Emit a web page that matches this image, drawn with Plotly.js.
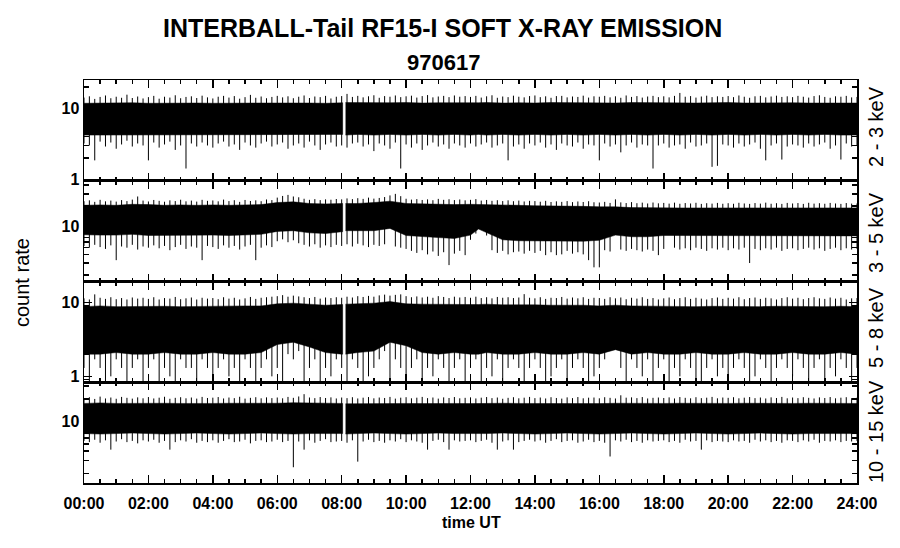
<!DOCTYPE html>
<html><head><meta charset="utf-8">
<script src="https://cdn.plot.ly/plotly-3.0.1.min.js"></script>
<style>body{margin:0;background:#fff}#chart{width:900px;height:548px}</style>
</head><body><div id="chart"></div>
<script>
// ---------- data ----------
const TITLE_1 = 'INTERBALL-Tail RF15-I SOFT X-RAY EMISSION';
const TITLE_2 = '970617';
const Y_TITLE = 'count rate';
const X_TITLE = 'time UT';
const BAND_NAMES = ['2 - 3 keV', '3 - 5 keV', '5 - 8 keV', '10 - 15 keV'];
const TIME_TICKS = [0, 2, 4, 6, 8, 10, 12, 14, 16, 18, 20, 22, 24];
const TIME_LABELS = ['00:00','02:00','04:00','06:00','08:00','10:00','12:00','14:00','16:00','18:00','20:00','22:00','24:00'];
const Y_TICKS = [1, 10];
const Y_LABELS = ['1', '10'];
const Y_MINOR = [0.8, 0.9, 2, 3, 4, 5, 6, 7, 8, 9, 20, 30, 40];

// times (hours UT) of the dense core envelope; data gap between 8.03 and 8.12
const coreT = [0,0.5,1,1.5,2,2.5,3,3.5,4,4.5,5,5.5,
  6,6.5,7,7.5,8,
  8.03,8.12,
  8.5,9,9.5,10,10.5,11,11.5,12,
  12.25,
  12.5,13,13.5,14,14.5,15,15.5,16,16.5,17,17.5,18,18.5,19,19.5,20,20.5,21,21.5,22,22.5,23,23.5,24];
const GAP_AFTER = 8.03;

// times (minutes UT) of the spike extremes
const spikeMin = [
  0,10,20,30,40,50,60,70,80,90,100,110,
  120,130,140,150,160,170,180,190,200,210,220,230,
  240,250,260,270,280,290,300,310,320,330,340,350,
  360,370,380,390,400,410,420,430,440,450,460,470,
  480,490,500,510,520,530,540,550,560,570,580,590,
  600,610,620,630,640,650,660,670,680,690,700,710,
  720,730,740,750,760,770,780,790,800,810,820,830,
  840,850,860,870,880,890,900,910,920,930,940,950,
  960,970,980,990,1000,1010,1020,1030,1040,1050,1060,1070,
  1080,1090,1100,1110,1120,1130,1140,1150,1160,1170,1180,1190,
  1200,1210,1220,1230,1240,1250,1260,1270,1280,1290,1300,1310,
  1320,1330,1340,1350,1360,1370,1380,1390,1400,1410,1420,1430,
  1440];

// ---- 2 - 3 keV ----
const p1CoreHi = [11.8,11.9,11.8,12.0,11.8,11.9,11.8,11.9,11.8,11.9,11.8,11.9,
  11.9,12.0,11.9,11.8,12.0,
  12.0,12.1,
  12.0,12.1,12.0,12.1,11.9,12.0,11.9,12.0,
  12.0,
  12.1,11.9,12.0,11.9,12.1,12.0,11.9,12.0,11.9,12.1,12.0,11.9,12.0,11.9,12.0,12.1,11.9,12.0,11.9,12.0,11.9,12.0,11.9,11.9];
const p1CoreLo = [4.2,4.3,4.2,4.3,4.2,4.3,4.2,4.2,4.3,4.2,4.3,4.2,
  4.3,4.2,4.3,4.2,4.3,
  4.3,4.2,
  4.3,4.2,4.3,4.2,4.3,4.2,4.3,4.2,
  4.3,
  4.2,4.3,4.2,4.3,4.2,4.3,4.2,4.3,4.2,4.3,4.2,4.3,4.2,4.3,4.2,4.3,4.2,4.3,4.2,4.3,4.2,4.3,4.2,4.2];
const p1Hi = [
  14.2,14.8,13.6,14.5,15.2,13.9,14.6,14.1,15.6,14.0,14.7,13.8,
  14.4,15.0,13.7,14.6,14.2,15.3,13.9,14.5,14.8,14.0,15.1,14.3,
  13.8,14.6,15.0,14.2,14.9,13.7,14.4,15.5,14.1,14.7,13.9,14.5,
  15.0,14.3,14.8,13.9,14.6,15.2,14.0,14.7,14.4,15.0,13.8,14.6,
  14.9,16.0,14.5,15.0,14.3,14.8,15.3,14.1,14.9,14.6,15.2,14.4,
  14.8,15.1,14.2,14.9,15.4,14.3,14.7,15.0,14.4,15.2,14.6,14.9,
  14.5,15.0,14.2,14.8,15.3,14.1,14.7,14.4,15.1,14.6,14.3,14.9,
  15.2,14.4,14.8,14.1,14.9,15.0,14.3,14.7,14.5,15.1,14.2,14.8,
  14.6,15.0,14.3,14.8,14.1,15.2,14.5,14.9,14.2,14.7,15.0,14.4,
  14.8,14.3,15.0,16.5,14.6,14.9,14.2,14.7,15.1,14.4,14.8,14.5,
  14.9,14.4,15.2,14.6,14.1,14.8,15.0,14.3,14.7,15.1,14.5,14.8,
  14.4,15.0,14.6,14.2,14.9,15.3,14.5,14.1,14.8,14.6,15.0,14.3,
  14.5];
const p1Lo = [
  3.2,3.0,1.85,3.4,2.9,3.3,2.7,3.1,3.5,2.9,3.2,3.0,
  1.85,3.3,2.8,3.1,3.4,2.6,3.0,1.42,3.2,2.9,3.3,3.0,
  2.8,3.2,3.4,2.9,3.1,2.6,3.3,3.0,2.8,3.2,3.4,2.9,
  3.1,3.3,2.7,3.0,3.2,2.8,3.4,3.0,2.6,3.1,3.3,2.9,
  3.0,2.8,3.2,3.3,2.9,3.1,2.5,3.2,3.0,2.7,3.3,1.42,
  3.1,2.8,3.2,2.6,3.0,3.3,2.9,3.1,2.7,3.2,3.0,2.8,
  3.2,2.9,3.1,3.3,2.8,3.0,3.2,1.85,2.9,3.1,2.7,3.2,
  3.0,3.3,2.8,3.1,2.6,3.2,3.0,2.9,3.3,2.7,3.1,3.0,
  1.85,3.2,2.9,3.1,2.4,3.0,3.3,2.8,3.1,3.0,1.42,3.0,
  3.2,2.8,3.0,3.1,2.7,3.3,2.9,3.0,3.2,1.5,1.55,3.1,
  3.0,2.8,3.2,2.9,3.1,3.3,2.7,1.85,3.0,3.2,1.9,2.9,
  3.1,3.0,2.8,3.2,2.9,3.1,3.3,2.7,3.0,1.9,3.2,2.9,
  3.0];

// ---- 3 - 5 keV ----
const p2CoreHi = [20.5,20.8,20.5,21.2,21.0,20.5,20.8,20.5,20.8,20.5,20.8,21.0,
  22.5,23.0,21.8,21.5,21.8,
  21.8,21.8,
  21.8,22.5,23.5,21.8,21.5,21.2,21.0,21.2,
  21.0,
  21.0,20.5,20.5,20.2,20.2,19.8,19.8,19.5,19.5,19.0,18.8,18.8,18.8,18.8,18.8,18.8,18.8,18.8,18.8,18.8,18.8,18.8,18.8,18.8];
const p2CoreLo = [7.7,7.6,7.6,7.8,7.5,7.6,7.5,7.6,7.6,7.5,7.6,7.8,
  8.6,8.8,8.2,8.0,8.5,
  8.5,8.8,
  8.8,8.8,9.5,7.5,7.2,7.0,6.8,7.6,
  9.3,
  8.2,6.5,6.3,6.3,6.2,6.2,6.2,6.4,7.6,7.2,7.2,7.5,7.4,7.4,7.4,7.4,7.4,7.4,7.4,7.4,7.4,7.4,7.4,7.4];
const p2Hi = [
  23.5,24.2,23.0,24.6,23.4,24.0,23.2,24.4,23.6,24.8,27.5,24.0,
  23.3,24.5,23.8,23.1,24.2,23.6,24.7,23.4,24.0,23.2,24.6,23.8,
  24.1,23.4,24.8,23.6,24.3,23.0,24.5,23.7,24.2,23.5,24.9,24.4,
  26.5,28.0,29.0,27.5,26.8,25.5,24.6,25.2,24.4,25.0,24.7,25.3,
  25.0,25.8,25.2,26.0,25.4,26.5,25.6,26.2,27.0,28.5,30.0,27.8,
  25.5,24.8,25.2,24.5,25.0,24.3,25.4,24.6,25.1,24.4,24.9,24.2,
  24.6,25.2,24.0,24.5,23.8,24.3,23.6,24.2,23.5,24.0,23.3,23.8,
  23.6,23.1,23.8,22.9,23.4,23.0,23.6,22.8,23.3,22.9,23.5,22.7,
  22.5,23.0,22.2,25.0,22.6,22.1,22.8,22.0,22.4,21.8,22.5,21.9,
  22.2,21.7,22.4,21.6,22.1,21.8,22.3,21.5,22.0,21.7,22.2,21.6,
  22.0,21.6,22.3,21.8,21.5,22.1,21.7,22.4,21.6,22.0,21.5,22.2,
  21.8,22.1,21.5,22.3,21.7,22.0,21.6,22.2,21.8,21.5,22.1,21.7,
  21.8];
const p2Lo = [
  5.3,5.0,5.5,5.1,4.8,5.4,3.3,5.2,5.0,5.5,4.7,5.2,
  5.0,5.4,4.9,5.3,4.6,5.1,5.5,4.8,5.2,5.0,3.3,5.3,
  5.1,4.8,5.4,5.0,5.3,4.7,5.2,5.5,3.3,5.0,5.4,5.1,
  6.2,6.6,6.0,6.4,5.8,5.5,5.2,5.6,5.0,5.4,5.1,5.5,
  5.3,5.6,5.2,5.7,5.4,5.1,5.5,5.3,5.6,11.8,5.2,5.0,
  4.8,4.5,4.2,4.6,4.0,4.4,3.8,4.3,2.8,4.1,4.5,3.9,
  6.5,8.0,9.5,7.5,4.6,4.2,4.5,4.0,4.3,4.4,4.1,4.5,
  4.2,4.5,3.9,4.3,3.9,4.0,4.5,4.1,4.3,4.0,3.3,2.6,
  2.6,4.6,4.4,9.0,4.7,4.5,4.8,4.6,4.4,4.7,4.5,3.9,
  4.8,8.0,5.0,4.7,4.9,4.6,5.0,4.8,4.5,4.9,4.7,5.0,
  4.6,4.9,4.7,5.0,3.0,4.8,4.6,4.9,4.7,5.0,4.5,4.8,
  4.9,4.6,4.8,5.0,4.7,4.9,4.5,4.8,5.0,4.6,4.9,4.7,
  4.8];

// ---- 5 - 8 keV ----
const p3CoreHi = [8.8,9.0,8.8,8.9,8.8,8.9,8.8,8.9,8.8,8.9,9.0,9.0,
  9.6,9.8,9.5,9.2,9.4,
  9.4,9.5,
  9.6,9.8,10.3,9.6,9.5,9.4,9.5,9.4,
  9.4,
  9.5,9.3,9.4,9.3,9.2,9.3,9.2,9.0,9.2,9.0,8.9,9.0,8.9,8.8,8.9,8.8,8.9,8.8,8.9,8.8,8.9,8.8,8.9,8.8];
const p3CoreLo = [2.0,2.0,2.1,2.0,2.0,2.1,2.0,2.0,2.1,2.0,2.0,2.1,
  2.7,2.9,2.5,2.1,2.0,
  2.0,2.0,
  2.1,2.2,2.9,2.6,2.1,2.0,2.1,2.0,
  2.0,
  2.1,2.0,2.0,2.1,2.0,2.0,2.1,2.0,2.3,2.0,2.1,2.0,2.0,2.1,2.0,2.0,2.1,2.0,2.0,2.1,2.0,2.0,2.1,2.0];
const p3Hi = [
  11.4,11.0,12.9,11.6,11.2,11.8,11.1,11.5,11.0,11.7,11.3,11.6,
  11.2,11.8,11.0,11.5,11.3,11.9,11.1,11.4,11.7,11.0,11.6,11.3,
  11.5,11.1,11.8,11.3,11.6,11.0,11.4,11.9,11.2,11.6,11.8,12.0,
  12.2,12.6,12.0,12.4,12.1,11.8,11.5,11.9,11.3,11.7,11.5,11.8,
  11.6,12.0,11.7,12.2,11.9,12.3,12.0,12.5,12.8,12.4,12.7,12.9,
  12.2,11.8,12.1,11.7,12.0,11.6,12.2,11.9,11.5,12.0,11.7,11.9,
  11.6,12.0,11.5,11.8,11.4,11.9,11.6,11.8,11.5,11.7,13.0,11.6,
  11.4,11.8,11.2,11.6,11.5,11.9,11.3,11.7,11.4,11.8,11.2,11.6,
  11.5,11.2,11.8,11.4,11.7,11.1,11.6,11.3,11.8,11.2,11.5,11.0,
  11.4,11.7,11.1,11.5,11.8,11.2,11.6,11.3,11.0,11.5,11.7,11.2,
  11.6,11.3,11.8,11.1,11.5,11.7,11.2,11.6,11.4,11.0,11.5,11.8,
  11.3,11.6,11.1,11.5,11.8,11.4,11.2,11.7,11.3,11.6,11.0,11.4,
  11.5];
const p3Lo = [
  1.3,0.85,1.7,1.3,0.85,1.0,1.7,1.3,0.85,1.3,1.7,0.85,
  1.3,1.7,0.85,1.3,1.0,0.85,1.7,1.3,1.3,0.85,1.7,1.3,
  0.85,1.3,1.7,1.0,1.3,0.85,1.7,1.3,0.85,1.3,1.7,1.0,
  1.3,0.85,2.0,1.7,2.2,0.85,1.3,1.7,0.85,1.3,1.0,1.7,
  1.3,0.85,1.7,1.3,0.85,1.0,1.3,1.7,2.2,0.85,1.7,1.3,
  0.85,1.3,1.7,0.85,1.3,1.0,1.7,1.3,0.85,1.3,1.7,0.85,
  1.3,1.7,0.85,1.3,1.0,1.7,0.85,1.3,1.7,1.3,0.85,1.3,
  1.7,1.3,0.85,1.0,1.3,1.7,0.85,1.3,1.7,1.3,0.85,1.0,
  1.3,1.7,3.0,4.2,1.3,0.85,1.7,1.3,1.0,1.7,0.85,1.3,
  1.7,0.85,1.3,1.0,1.7,1.3,0.85,0.85,1.3,1.7,1.0,1.3,
  0.85,1.3,1.7,1.3,0.85,1.0,1.7,1.3,0.85,1.3,1.7,1.3,
  1.0,1.7,1.3,0.85,1.3,1.7,0.85,1.3,1.0,1.7,1.3,0.85,
  1.3];

// ---- 10 - 15 keV ----
const p4CoreHi = [17.5,17.8,17.5,17.6,17.4,17.6,17.5,17.7,17.5,17.6,17.5,17.7,
  17.6,17.9,17.8,17.6,17.5,
  17.5,17.3,
  17.4,17.5,17.4,17.5,17.4,17.6,17.5,17.4,
  17.5,
  17.5,17.6,17.5,17.4,17.5,17.6,17.5,17.4,17.6,17.5,17.4,17.5,17.6,17.5,17.4,17.5,17.6,17.5,17.4,17.5,17.6,17.5,17.4,17.5];
const p4CoreLo = [6.9,6.8,6.9,7.0,6.9,6.8,6.9,7.0,6.9,6.8,6.9,7.0,
  6.9,6.8,6.9,7.0,6.9,
  6.9,6.8,
  6.9,7.0,6.9,6.8,6.9,7.0,6.9,6.8,
  6.9,
  6.9,7.0,6.9,6.8,6.9,7.0,6.9,6.8,6.9,7.0,6.9,6.8,6.9,7.0,6.9,6.8,6.9,7.0,6.9,6.8,6.9,7.0,6.9,6.9];
const p4Hi = [
  20.6,21.2,20.1,21.6,20.4,21.0,20.2,21.4,20.8,20.3,21.1,20.5,
  21.3,20.4,20.9,21.5,20.2,20.8,21.2,20.5,21.0,20.3,21.4,20.7,
  20.9,21.3,20.4,21.0,20.6,21.5,20.3,20.8,21.2,20.5,21.1,20.6,
  21.0,20.5,21.4,20.8,21.7,23.3,21.0,20.6,21.3,20.7,21.1,20.4,
  21.0,20.6,21.2,20.4,20.9,21.3,20.5,21.0,20.7,21.4,20.3,20.9,
  21.2,20.5,20.9,21.4,20.6,21.0,20.3,21.1,20.7,21.3,20.5,20.8,
  21.1,20.4,20.9,21.3,20.6,21.0,20.2,20.8,21.2,20.5,20.9,21.4,
  20.6,21.0,20.4,21.2,20.7,20.3,21.1,20.6,21.3,20.5,20.9,21.0,
  20.5,21.2,20.8,20.4,22.5,20.9,21.1,20.6,21.3,20.4,20.8,21.0,
  20.7,21.1,20.4,21.3,20.8,20.5,21.2,20.6,20.9,21.4,20.5,21.0,
  20.8,21.2,20.5,20.9,21.3,20.6,21.0,20.4,21.1,20.7,21.4,20.5,
  21.0,20.6,21.2,20.8,20.4,21.1,20.7,21.3,20.5,20.9,21.2,20.6,
  20.9];
const p4Lo = [
  5.5,5.3,5.7,5.2,5.6,4.2,5.4,5.8,5.3,5.5,5.1,5.6,
  5.4,5.7,5.2,5.5,4.2,5.3,5.6,5.4,5.8,5.2,5.5,5.3,
  5.6,5.2,5.5,5.8,5.3,5.4,5.7,5.1,5.5,5.6,5.3,5.4,
  5.7,5.3,5.5,2.44,5.4,4.2,5.6,5.2,5.5,5.8,5.3,5.4,
  5.5,5.2,5.6,2.9,5.4,5.7,5.3,5.5,5.2,5.6,5.4,5.8,
  5.3,5.6,5.4,5.2,4.2,5.5,5.7,5.3,4.2,5.6,5.4,5.5,
  5.6,5.3,5.5,5.7,5.2,4.2,5.4,5.6,4.2,5.3,5.5,5.7,
  5.4,5.6,5.2,5.5,5.8,5.3,5.5,5.6,5.2,5.4,5.7,5.3,
  5.5,5.2,3.4,5.6,5.4,5.7,5.3,5.5,5.2,5.6,5.4,5.5,
  5.6,5.3,5.5,5.2,5.7,5.4,5.5,4.2,5.6,5.3,5.5,5.4,
  5.3,5.6,5.4,5.5,5.2,5.7,5.4,5.6,5.3,5.5,5.2,5.6,
  5.5,5.3,5.6,5.4,5.7,5.2,5.5,5.4,5.6,5.3,5.5,5.4,
  5.5];

// ---------- layout constants ----------
const W = 900, H = 548, ML = 84, MR = 43, MT = 80, MB = 65;
const PW = W - ML - MR, PH = H - MT - MB;
const px = x => (x - ML) / PW;
const py = y => (H - MB - y) / PH;
const FAM = 'Liberation Sans, Arial, sans-serif';
const LABEL_Y = [127, 233, 328, 432];   // pixel centres of the right-hand band labels

const panels = [
  {name: BAND_NAMES[0], range: [-0.02, 1.40], cHi: p1CoreHi, cLo: p1CoreLo, hi: p1Hi, lo: p1Lo},
  {name: BAND_NAMES[1], range: [0.21, 1.667], cHi: p2CoreHi, cLo: p2CoreLo, hi: p2Hi, lo: p2Lo},
  {name: BAND_NAMES[2], range: [-0.08, 1.285], cHi: p3CoreHi, cLo: p3CoreLo, hi: p3Hi, lo: p3Lo},
  {name: BAND_NAMES[3], range: [0.176, 1.527], cHi: p4CoreHi, cLo: p4CoreLo, hi: p4Hi, lo: p4Lo}
];

const traces = [];
const layout = {
  width: W, height: H,
  margin: {l: ML, r: MR, t: MT, b: MB, pad: 0},
  paper_bgcolor: '#fff', plot_bgcolor: '#fff',
  showlegend: false,
  font: {family: FAM, color: '#000'},
  annotations: []
};
const tickFont = {family: FAM, size: 16, color: '#000', weight: 'bold'};

panels.forEach((p, i) => {
  const n = i + 1;
  const xa = 'x' + (n === 1 ? '' : n), ya = 'y' + (n === 1 ? '' : n);
  // core band, split at the data gap
  const segs = [[], []];
  coreT.forEach((t, k) => segs[t <= GAP_AFTER ? 0 : 1].push(k));
  segs.forEach(seg => {
    const xs = seg.map(k => coreT[k]).concat(seg.slice().reverse().map(k => coreT[k]));
    const ys = seg.map(k => p.cHi[k]).concat(seg.slice().reverse().map(k => p.cLo[k]));
    traces.push({x: xs, y: ys, xaxis: xa, yaxis: ya, type: 'scatter', mode: 'lines',
      fill: 'toself', fillcolor: '#000', line: {color: '#000', width: 0.5}, hoverinfo: 'skip'});
  });
  // spikes (vertical segments from minimum to maximum)
  const sx = [], sy = [];
  spikeMin.forEach((m, k) => { const t = m / 60; sx.push(t, t, null); sy.push(p.lo[k], p.hi[k], null); });
  traces.push({x: sx, y: sy, xaxis: xa, yaxis: ya, type: 'scatter', mode: 'lines',
    line: {color: '#000', width: 1}, connectgaps: false, hoverinfo: 'skip'});

  const top = 1 - i * 0.25, bot = 1 - (i + 1) * 0.25;
  layout['xaxis' + (n === 1 ? '' : n)] = {
    domain: [0, 1], anchor: ya, range: [0, 24],
    tickmode: 'array', tickvals: TIME_TICKS, ticktext: TIME_LABELS,
    showticklabels: n === 4, tickfont: tickFont, ticklabelstandoff: 5,
    ticks: 'inside', ticklen: 8, tickwidth: 1.5, tickcolor: '#000',
    minor: {dtick: 0.5, tick0: 0, ticks: 'inside', ticklen: 4, tickwidth: 1.5, tickcolor: '#000', showgrid: false},
    showline: true, linecolor: '#000', linewidth: 1.5, mirror: 'allticks',
    showgrid: false, zeroline: false, fixedrange: true
  };
  layout['yaxis' + (n === 1 ? '' : n)] = {
    domain: [bot, top], anchor: xa, type: 'log', range: p.range,
    tickmode: 'array', tickvals: Y_TICKS, ticktext: Y_LABELS,
    tickfont: tickFont, ticklabelstandoff: 0,
    ticks: 'inside', ticklen: 8, tickwidth: 1.5, tickcolor: '#000',
    minor: {tickmode: 'array', tickvals: Y_MINOR, ticks: 'inside', ticklen: 5, tickwidth: 1.5, tickcolor: '#000', showgrid: false},
    showline: true, linecolor: '#000', linewidth: 1.5, mirror: 'allticks',
    showgrid: false, zeroline: false, fixedrange: true
  };
  layout.annotations.push({
    text: p.name, xref: 'paper', yref: 'paper', x: px(876), y: py(LABEL_Y[i]),
    textangle: -90, showarrow: false, xanchor: 'center', yanchor: 'middle',
    font: {family: FAM, size: 20, color: '#000'}
  });
});

layout.annotations.push(
  {text: TITLE_1, xref: 'paper', yref: 'paper', x: px(442), y: py(28), showarrow: false,
   xanchor: 'center', yanchor: 'middle', font: {size: 25, weight: 'bold', color: '#000', family: FAM}},
  {text: TITLE_2, xref: 'paper', yref: 'paper', x: px(443), y: py(62), showarrow: false,
   xanchor: 'center', yanchor: 'middle', font: {size: 22, weight: 'bold', color: '#000', family: FAM}},
  {text: Y_TITLE, xref: 'paper', yref: 'paper', x: px(22), y: py(283), showarrow: false, textangle: -90,
   xanchor: 'center', yanchor: 'middle', font: {size: 20, color: '#000', family: FAM}},
  {text: X_TITLE, xref: 'paper', yref: 'paper', x: px(471), y: py(522), showarrow: false,
   xanchor: 'center', yanchor: 'middle', font: {size: 16, weight: 'bold', color: '#000', family: FAM}}
);

Plotly.newPlot('chart', traces, layout, {displayModeBar: false, staticPlot: true});
</script></body></html>
